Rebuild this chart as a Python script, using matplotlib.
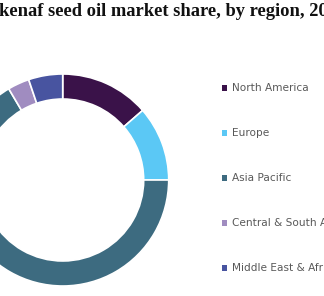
import matplotlib
matplotlib.use("Agg")
import matplotlib.pyplot as plt
from matplotlib.patches import Rectangle

regions = ["North America", "Europe", "Asia Pacific", "Central & South America", "Middle East & Africa"]
shares = [13.6, 11.4, 66.5, 3.3, 5.2]
colors = ["#3a1249", "#5bc8f5", "#3d6b80", "#a08cc0", "#4854a0"]
title = "kenaf seed oil market share, by region, 2021 (%)"

W, H = 324, 296
fig = plt.figure(figsize=(W / 100, H / 100), dpi=100)

cx, cy, R = 62.7, 180, 106
ax = fig.add_axes([(cx - R) / W, (H - cy - R) / H, 2 * R / W, 2 * R / H])
ax.pie(shares, colors=colors, startangle=90, counterclock=False, radius=1,
       wedgeprops=dict(width=0.236, edgecolor="white", linewidth=1.2))
ax.set_xlim(-1, 1)
ax.set_ylim(-1, 1)
ax.set_aspect("equal")
ax.axis("off")

fig.text(-1 / W, 1 - 15.5 / H, title, fontsize=13.3, fontweight="bold",
         family="Liberation Serif", color="#111111", ha="left", va="baseline")

for i, (lab, col) in enumerate(zip(regions, colors)):
    yc = 88 + 45 * i
    fig.patches.append(Rectangle((221.5 / W, 1 - (yc + 2.5) / H), 5.5 / W, 5.5 / H,
                                 transform=fig.transFigure, facecolor=col, edgecolor="none"))
    fig.text(232 / W, 1 - yc / H, lab, fontsize=7.6, color="#595959",
             ha="left", va="center", family="DejaVu Sans")

fig.savefig("out.png", dpi=100)
